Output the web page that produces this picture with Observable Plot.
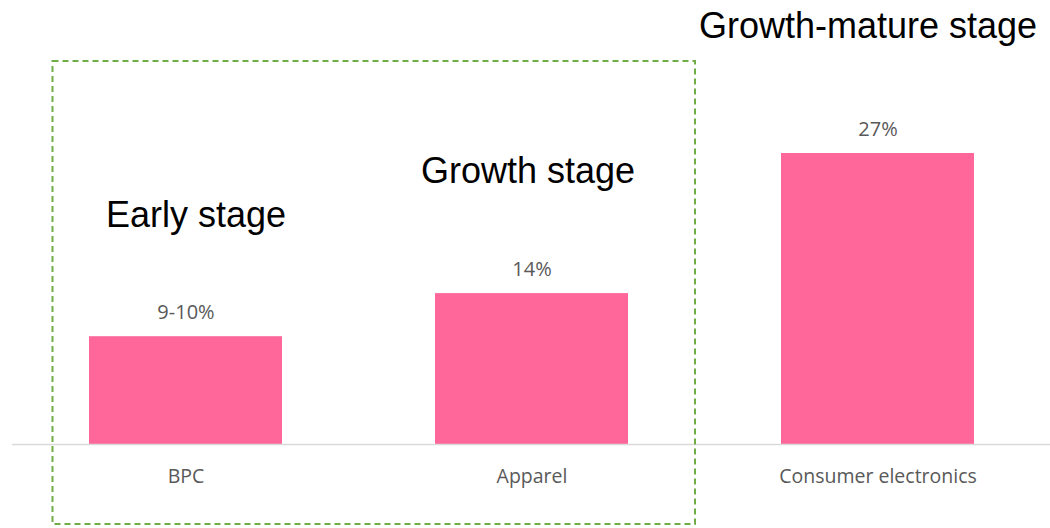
<!DOCTYPE html>
<html>
<head>
<meta charset="utf-8">
<script src="https://cdn.jsdelivr.net/npm/d3@7"></script>
<script src="https://cdn.jsdelivr.net/npm/@observablehq/plot@0.6"></script>
<style>
  html, body { margin: 0; padding: 0; background: #fff; }
  #chart svg { display: block; }
</style>
</head>
<body>
<div id="chart"></div>
<script>
const categories = ["BPC", "Apparel", "Consumer electronics"];
const values = [10, 14, 27];
const valueLabels = ["9-10%", "14%", "27%"];
const stageLabels = ["Early stage", "Growth stage", "Growth-mature stage"];

const data = categories.map((c, i) => ({
  category: c, value: values[i], label: valueLabels[i], stage: stageLabels[i]
}));

const W = 1050, H = 528;
const stageFont = "Liberation Sans, Arial, sans-serif";
const plot = Plot.plot({
  width: W,
  height: H,
  marginLeft: 12,
  marginRight: 0,
  marginTop: 153,
  marginBottom: 84,
  style: { background: "#fff", overflow: "visible" },
  x: { domain: categories, range: [12, 1051], paddingInner: 0.443, paddingOuter: 0.2215, label: null },
  y: { domain: [0, 27], axis: null },
  marks: [
    Plot.barY(data, { x: "category", y: "value", fill: "#FF6699" }),
    Plot.ruleY([0], { stroke: "#d9d9d9", strokeWidth: 1.5 }),
    Plot.axisX({ tickSize: 0, tickPadding: 25, fontSize: 19.5, fontFamily: "Open Sans", fill: "#595959", label: null }),
    Plot.text(data, { x: "category", y: "value", text: "label", lineAnchor: "bottom", dy: -18,
      fontSize: 20, fontFamily: "Open Sans", fill: "#595959" }),
    Plot.text(data.slice(0, 1), { x: "category", y: "value", text: "stage", lineAnchor: "bottom", dy: -110, dx: 10,
      fontSize: 36, fontFamily: stageFont, fill: "#000" }),
    Plot.text(data.slice(1, 2), { x: "category", y: "value", text: "stage", lineAnchor: "bottom", dy: -111, dx: -4,
      fontSize: 36, fontFamily: stageFont, fill: "#000" }),
    Plot.text(data.slice(2, 3), { x: "category", y: "value", text: "stage", lineAnchor: "bottom", dy: -116, dx: -10,
      fontSize: 36, fontFamily: stageFont, fill: "#000" })
  ]
});

// dashed annotation box grouping the first two categories
const xs = plot.scale("x"), ys = plot.scale("y");
const x0 = xs.apply(categories[0]) - 36.5;
const x1 = xs.apply(categories[1]) + xs.bandwidth + 67;
const y0 = ys.apply(d3.max(values)) - 92;
const y1 = ys.apply(0) + 80;
d3.select(plot).append("rect")
  .attr("x", x0).attr("y", y0)
  .attr("width", x1 - x0).attr("height", y1 - y0)
  .attr("fill", "none").attr("stroke", "#70ad47")
  .attr("stroke-width", 2).attr("stroke-dasharray", "6,4");

document.getElementById("chart").appendChild(plot);
</script>
</body>
</html>
